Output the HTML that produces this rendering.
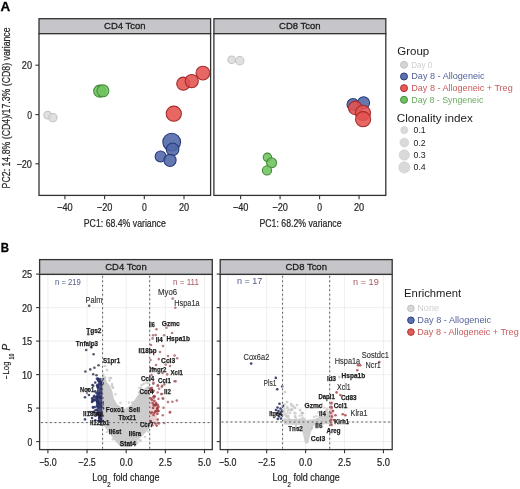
<!DOCTYPE html>
<html><head><meta charset="utf-8"><style>
html,body{margin:0;padding:0;background:#fff;}
svg{display:block;filter:blur(0.3px);font-family:"Liberation Sans", sans-serif;}
.ax{fill:#262626;stroke:#262626;stroke-width:0.22px;}
</style></head><body>
<svg width="520" height="489" viewBox="0 0 520 489">
<rect width="520" height="489" fill="#fff"/>
<text x="0.4" y="11.4" font-size="13.4" fill="#000" text-anchor="start" font-weight="bold" font-style="normal" textLength="9.7" lengthAdjust="spacingAndGlyphs" stroke="#000" stroke-width="0.3">A</text>
<rect x="39.0" y="18.7" width="171.6" height="15.0" fill="#c6c5c9" stroke="#333" stroke-width="1.3"/>
<rect x="39.0" y="33.7" width="171.6" height="161.7" fill="#fff" stroke="#333" stroke-width="1.3"/>
<text x="124.8" y="29.3" font-size="9.9" fill="#1e1e1e" text-anchor="middle" font-weight="normal" font-style="normal" textLength="41.5" lengthAdjust="spacingAndGlyphs" stroke="#1e1e1e" stroke-width="0.3">CD4 Tcon</text>
<rect x="213.9" y="18.7" width="171.9" height="15.0" fill="#c6c5c9" stroke="#333" stroke-width="1.3"/>
<rect x="213.9" y="33.7" width="171.9" height="161.7" fill="#fff" stroke="#333" stroke-width="1.3"/>
<text x="299.85" y="29.3" font-size="9.9" fill="#1e1e1e" text-anchor="middle" font-weight="normal" font-style="normal" textLength="41.5" lengthAdjust="spacingAndGlyphs" stroke="#1e1e1e" stroke-width="0.3">CD8 Tcon</text>
<line x1="35.4" y1="65.2" x2="39.0" y2="65.2" stroke="#333" stroke-width="1.1"/>
<text x="32.0" y="69.10000000000001" font-size="10.7" fill="#333" text-anchor="end" font-weight="normal" font-style="normal" textLength="10.2" lengthAdjust="spacingAndGlyphs" class="ax">20</text>
<line x1="35.4" y1="114.6" x2="39.0" y2="114.6" stroke="#333" stroke-width="1.1"/>
<text x="32.0" y="118.5" font-size="10.7" fill="#333" text-anchor="end" font-weight="normal" font-style="normal" textLength="4.8" lengthAdjust="spacingAndGlyphs" class="ax">0</text>
<line x1="35.4" y1="163.8" x2="39.0" y2="163.8" stroke="#333" stroke-width="1.1"/>
<text x="32.0" y="167.70000000000002" font-size="10.7" fill="#333" text-anchor="end" font-weight="normal" font-style="normal" textLength="15.6" lengthAdjust="spacingAndGlyphs" class="ax">−20</text>
<line x1="64.9" y1="195.4" x2="64.9" y2="199.2" stroke="#333" stroke-width="1.1"/>
<text x="64.9" y="211.2" font-size="10.7" fill="#333" text-anchor="middle" font-weight="normal" font-style="normal" textLength="15.6" lengthAdjust="spacingAndGlyphs" class="ax">−40</text>
<line x1="104.60000000000001" y1="195.4" x2="104.60000000000001" y2="199.2" stroke="#333" stroke-width="1.1"/>
<text x="104.60000000000001" y="211.2" font-size="10.7" fill="#333" text-anchor="middle" font-weight="normal" font-style="normal" textLength="15.6" lengthAdjust="spacingAndGlyphs" class="ax">−20</text>
<line x1="144.3" y1="195.4" x2="144.3" y2="199.2" stroke="#333" stroke-width="1.1"/>
<text x="144.3" y="211.2" font-size="10.7" fill="#333" text-anchor="middle" font-weight="normal" font-style="normal" textLength="4.8" lengthAdjust="spacingAndGlyphs" class="ax">0</text>
<line x1="184.0" y1="195.4" x2="184.0" y2="199.2" stroke="#333" stroke-width="1.1"/>
<text x="184.0" y="211.2" font-size="10.7" fill="#333" text-anchor="middle" font-weight="normal" font-style="normal" textLength="10.2" lengthAdjust="spacingAndGlyphs" class="ax">20</text>
<line x1="240.60000000000002" y1="195.4" x2="240.60000000000002" y2="199.2" stroke="#333" stroke-width="1.1"/>
<text x="240.60000000000002" y="211.2" font-size="10.7" fill="#333" text-anchor="middle" font-weight="normal" font-style="normal" textLength="15.6" lengthAdjust="spacingAndGlyphs" class="ax">−40</text>
<line x1="280.1" y1="195.4" x2="280.1" y2="199.2" stroke="#333" stroke-width="1.1"/>
<text x="280.1" y="211.2" font-size="10.7" fill="#333" text-anchor="middle" font-weight="normal" font-style="normal" textLength="15.6" lengthAdjust="spacingAndGlyphs" class="ax">−20</text>
<line x1="319.6" y1="195.4" x2="319.6" y2="199.2" stroke="#333" stroke-width="1.1"/>
<text x="319.6" y="211.2" font-size="10.7" fill="#333" text-anchor="middle" font-weight="normal" font-style="normal" textLength="4.8" lengthAdjust="spacingAndGlyphs" class="ax">0</text>
<line x1="359.1" y1="195.4" x2="359.1" y2="199.2" stroke="#333" stroke-width="1.1"/>
<text x="359.1" y="211.2" font-size="10.7" fill="#333" text-anchor="middle" font-weight="normal" font-style="normal" textLength="10.2" lengthAdjust="spacingAndGlyphs" class="ax">20</text>
<text x="124.8" y="227.1" font-size="11.2" fill="#333" text-anchor="middle" font-weight="normal" font-style="normal" textLength="82" lengthAdjust="spacingAndGlyphs" class="ax">PC1: 68.4% variance</text>
<text x="300.5" y="227.1" font-size="11.2" fill="#333" text-anchor="middle" font-weight="normal" font-style="normal" textLength="82" lengthAdjust="spacingAndGlyphs" class="ax">PC1: 68.2% variance</text>
<text x="10.3" y="107.9" font-size="11.0" fill="#333" text-anchor="middle" font-weight="normal" font-style="normal" textLength="161" lengthAdjust="spacingAndGlyphs" class="ax" transform="rotate(-90 10.3 107.9)">PC2: 14.8% (CD4)/17.3% (CD8) variance</text>
<circle cx="47.70" cy="115.10" r="3.9" fill="#dcdcdc" stroke="#c4c4c4" stroke-width="1.05" fill-opacity="0.88"/>
<circle cx="52.90" cy="117.60" r="4.2" fill="#dcdcdc" stroke="#c4c4c4" stroke-width="1.05" fill-opacity="0.88"/>
<circle cx="99.70" cy="91.10" r="6.0" fill="#6ec35f" stroke="#3f8a34" stroke-width="1.05" fill-opacity="0.88"/>
<circle cx="102.90" cy="90.80" r="6.0" fill="#6ec35f" stroke="#3f8a34" stroke-width="1.05" fill-opacity="0.88"/>
<circle cx="202.90" cy="73.10" r="6.9" fill="#e45250" stroke="#a52b2b" stroke-width="1.05" fill-opacity="0.88"/>
<circle cx="183.30" cy="83.70" r="6.6" fill="#e45250" stroke="#a52b2b" stroke-width="1.05" fill-opacity="0.88"/>
<circle cx="191.70" cy="81.10" r="6.6" fill="#e45250" stroke="#a52b2b" stroke-width="1.05" fill-opacity="0.88"/>
<circle cx="173.80" cy="113.70" r="7.6" fill="#e45250" stroke="#a52b2b" stroke-width="1.05" fill-opacity="0.88"/>
<circle cx="171.70" cy="142.10" r="8.9" fill="#4f67a6" stroke="#26397a" stroke-width="1.05" fill-opacity="0.88"/>
<circle cx="172.60" cy="149.40" r="6.3" fill="#4f67a6" stroke="#26397a" stroke-width="1.05" fill-opacity="0.88"/>
<circle cx="160.60" cy="156.40" r="5.5" fill="#4f67a6" stroke="#26397a" stroke-width="1.05" fill-opacity="0.88"/>
<circle cx="170.00" cy="160.30" r="6.1" fill="#4f67a6" stroke="#26397a" stroke-width="1.05" fill-opacity="0.88"/>
<circle cx="231.60" cy="59.75" r="3.8" fill="#dcdcdc" stroke="#c4c4c4" stroke-width="1.05" fill-opacity="0.88"/>
<circle cx="239.75" cy="60.75" r="4.2" fill="#dcdcdc" stroke="#c4c4c4" stroke-width="1.05" fill-opacity="0.88"/>
<circle cx="267.40" cy="157.30" r="4.2" fill="#6ec35f" stroke="#3f8a34" stroke-width="1.05" fill-opacity="0.88"/>
<circle cx="271.60" cy="162.80" r="5.0" fill="#6ec35f" stroke="#3f8a34" stroke-width="1.05" fill-opacity="0.88"/>
<circle cx="267.00" cy="170.40" r="4.6" fill="#6ec35f" stroke="#3f8a34" stroke-width="1.05" fill-opacity="0.88"/>
<circle cx="353.00" cy="104.50" r="6.0" fill="#4f67a6" stroke="#26397a" stroke-width="1.05" fill-opacity="0.88"/>
<circle cx="363.60" cy="102.80" r="6.0" fill="#4f67a6" stroke="#26397a" stroke-width="1.05" fill-opacity="0.88"/>
<circle cx="355.30" cy="107.90" r="6.8" fill="#e45250" stroke="#a52b2b" stroke-width="1.05" fill-opacity="0.88"/>
<circle cx="362.90" cy="112.90" r="7.6" fill="#e45250" stroke="#a52b2b" stroke-width="1.05" fill-opacity="0.88"/>
<circle cx="363.10" cy="119.20" r="7.6" fill="#e45250" stroke="#a52b2b" stroke-width="1.05" fill-opacity="0.88"/>
<text x="397.2" y="55.1" font-size="11" fill="#1a1a1a" text-anchor="start" font-weight="normal" font-style="normal" textLength="32" lengthAdjust="spacingAndGlyphs" >Group</text>
<circle cx="404.00" cy="64.80" r="3.5" fill="#d6d6d6" stroke="#c2c2c2" stroke-width="1.0" fill-opacity="1"/>
<text x="411.3" y="67.8" font-size="8.6" fill="#cfcfcf" text-anchor="start" font-weight="normal" font-style="normal" textLength="21" lengthAdjust="spacingAndGlyphs" >Day 0</text>
<circle cx="404.00" cy="76.47" r="3.5" fill="#5a72b0" stroke="#2a3d78" stroke-width="1.0" fill-opacity="1"/>
<text x="411.3" y="79.47" font-size="8.6" fill="#55639a" text-anchor="start" font-weight="normal" font-style="normal" textLength="73.3" lengthAdjust="spacingAndGlyphs" >Day 8 - Allogeneic</text>
<circle cx="404.00" cy="88.14" r="3.5" fill="#e65a58" stroke="#a83030" stroke-width="1.0" fill-opacity="1"/>
<text x="411.3" y="91.14" font-size="8.6" fill="#c85a5a" text-anchor="start" font-weight="normal" font-style="normal" textLength="101.4" lengthAdjust="spacingAndGlyphs" >Day 8 - Allogeneic + Treg</text>
<circle cx="404.00" cy="99.81" r="3.5" fill="#72c063" stroke="#3f8a34" stroke-width="1.0" fill-opacity="1"/>
<text x="411.3" y="102.81" font-size="8.6" fill="#6aaa5e" text-anchor="start" font-weight="normal" font-style="normal" textLength="72.1" lengthAdjust="spacingAndGlyphs" >Day 8 - Syngeneic</text>
<text x="396.8" y="121.8" font-size="11" fill="#1a1a1a" text-anchor="start" font-weight="normal" font-style="normal" textLength="76" lengthAdjust="spacingAndGlyphs" >Clonality index</text>
<circle cx="404.30" cy="130.10" r="3.6" fill="#d9d9d9" stroke="#cccccc" stroke-width="0.6" fill-opacity="1"/>
<text x="413.5" y="133.1" font-size="8.6" fill="#222" text-anchor="start" font-weight="normal" font-style="normal" textLength="12.2" lengthAdjust="spacingAndGlyphs" >0.1</text>
<circle cx="404.30" cy="142.53" r="4.4" fill="#d9d9d9" stroke="#cccccc" stroke-width="0.6" fill-opacity="1"/>
<text x="413.5" y="145.53" font-size="8.6" fill="#222" text-anchor="start" font-weight="normal" font-style="normal" textLength="12.2" lengthAdjust="spacingAndGlyphs" >0.2</text>
<circle cx="404.30" cy="154.96" r="5.2" fill="#d9d9d9" stroke="#cccccc" stroke-width="0.6" fill-opacity="1"/>
<text x="413.5" y="157.95999999999998" font-size="8.6" fill="#222" text-anchor="start" font-weight="normal" font-style="normal" textLength="12.2" lengthAdjust="spacingAndGlyphs" >0.3</text>
<circle cx="404.30" cy="167.39" r="5.6" fill="#d9d9d9" stroke="#cccccc" stroke-width="0.6" fill-opacity="1"/>
<text x="413.5" y="170.39" font-size="8.6" fill="#222" text-anchor="start" font-weight="normal" font-style="normal" textLength="12.2" lengthAdjust="spacingAndGlyphs" >0.4</text>
<text x="0.8" y="251.7" font-size="13.6" fill="#000" text-anchor="start" font-weight="bold" font-style="normal" textLength="8.3" lengthAdjust="spacingAndGlyphs" stroke="#000" stroke-width="0.3">B</text>
<rect x="39.6" y="259.6" width="172.70000000000002" height="14.8" fill="#c6c5c9" stroke="#333" stroke-width="1.3"/>
<rect x="39.6" y="274.4" width="172.70000000000002" height="175.2" fill="#fff" stroke="none" stroke-width="1"/>
<line x1="47.900000000000006" y1="274.4" x2="47.900000000000006" y2="449.6" stroke="#ebebeb" stroke-width="0.8"/>
<line x1="87.05000000000001" y1="274.4" x2="87.05000000000001" y2="449.6" stroke="#ebebeb" stroke-width="0.8"/>
<line x1="126.2" y1="274.4" x2="126.2" y2="449.6" stroke="#ebebeb" stroke-width="0.8"/>
<line x1="165.35" y1="274.4" x2="165.35" y2="449.6" stroke="#ebebeb" stroke-width="0.8"/>
<line x1="204.5" y1="274.4" x2="204.5" y2="449.6" stroke="#ebebeb" stroke-width="0.8"/>
<line x1="39.6" y1="441.6" x2="212.3" y2="441.6" stroke="#ebebeb" stroke-width="0.8"/>
<line x1="39.6" y1="408.1" x2="212.3" y2="408.1" stroke="#ebebeb" stroke-width="0.8"/>
<line x1="39.6" y1="374.6" x2="212.3" y2="374.6" stroke="#ebebeb" stroke-width="0.8"/>
<line x1="39.6" y1="341.1" x2="212.3" y2="341.1" stroke="#ebebeb" stroke-width="0.8"/>
<line x1="39.6" y1="307.6" x2="212.3" y2="307.6" stroke="#ebebeb" stroke-width="0.8"/>
<line x1="39.6" y1="274.1" x2="212.3" y2="274.1" stroke="#ebebeb" stroke-width="0.8"/>
<text x="125.95" y="270.2" font-size="9.9" fill="#1e1e1e" text-anchor="middle" font-weight="normal" font-style="normal" textLength="41.5" lengthAdjust="spacingAndGlyphs" stroke="#1e1e1e" stroke-width="0.3">CD4 Tcon</text>
<rect x="220.2" y="259.6" width="172.0" height="14.8" fill="#c6c5c9" stroke="#333" stroke-width="1.3"/>
<rect x="220.2" y="274.4" width="172.0" height="175.2" fill="#fff" stroke="none" stroke-width="1"/>
<line x1="227.75000000000003" y1="274.4" x2="227.75000000000003" y2="449.6" stroke="#ebebeb" stroke-width="0.8"/>
<line x1="266.675" y1="274.4" x2="266.675" y2="449.6" stroke="#ebebeb" stroke-width="0.8"/>
<line x1="305.6" y1="274.4" x2="305.6" y2="449.6" stroke="#ebebeb" stroke-width="0.8"/>
<line x1="344.52500000000003" y1="274.4" x2="344.52500000000003" y2="449.6" stroke="#ebebeb" stroke-width="0.8"/>
<line x1="383.45000000000005" y1="274.4" x2="383.45000000000005" y2="449.6" stroke="#ebebeb" stroke-width="0.8"/>
<line x1="220.2" y1="441.6" x2="392.2" y2="441.6" stroke="#ebebeb" stroke-width="0.8"/>
<line x1="220.2" y1="408.1" x2="392.2" y2="408.1" stroke="#ebebeb" stroke-width="0.8"/>
<line x1="220.2" y1="374.6" x2="392.2" y2="374.6" stroke="#ebebeb" stroke-width="0.8"/>
<line x1="220.2" y1="341.1" x2="392.2" y2="341.1" stroke="#ebebeb" stroke-width="0.8"/>
<line x1="220.2" y1="307.6" x2="392.2" y2="307.6" stroke="#ebebeb" stroke-width="0.8"/>
<line x1="220.2" y1="274.1" x2="392.2" y2="274.1" stroke="#ebebeb" stroke-width="0.8"/>
<text x="306.2" y="270.2" font-size="9.9" fill="#1e1e1e" text-anchor="middle" font-weight="normal" font-style="normal" textLength="41.5" lengthAdjust="spacingAndGlyphs" stroke="#1e1e1e" stroke-width="0.3">CD8 Tcon</text>
<polygon points="102.9,376 105,377 107,382 110,386 112.5,392 114,399 117,404 121,407 125,409 131,405 135.3,399 138,395 141,392 145,388 149.6,385 149.6,428 146,432 141,437 135,443 131,447.3 121,447.3 116,442 110,434 104,426 102.9,424" fill="#c8c8c8" fill-opacity="0.92"/>
<circle cx="107.1" cy="432.0" r="1.3" fill="#bdbdbd" fill-opacity="0.6"/>
<circle cx="111.8" cy="385.7" r="1.3" fill="#bdbdbd" fill-opacity="0.6"/>
<circle cx="139.3" cy="388.0" r="1.3" fill="#bdbdbd" fill-opacity="0.6"/>
<circle cx="129.0" cy="402.5" r="1.3" fill="#bdbdbd" fill-opacity="0.6"/>
<circle cx="112.8" cy="388.0" r="1.3" fill="#bdbdbd" fill-opacity="0.6"/>
<circle cx="148.2" cy="431.5" r="1.3" fill="#bdbdbd" fill-opacity="0.6"/>
<circle cx="112.9" cy="387.0" r="1.3" fill="#bdbdbd" fill-opacity="0.6"/>
<circle cx="139.0" cy="392.8" r="1.3" fill="#bdbdbd" fill-opacity="0.6"/>
<circle cx="120.3" cy="402.9" r="1.3" fill="#bdbdbd" fill-opacity="0.6"/>
<circle cx="137.4" cy="442.6" r="1.3" fill="#bdbdbd" fill-opacity="0.6"/>
<circle cx="145.7" cy="382.6" r="1.3" fill="#bdbdbd" fill-opacity="0.6"/>
<circle cx="135.6" cy="444.5" r="1.3" fill="#bdbdbd" fill-opacity="0.6"/>
<circle cx="139.9" cy="440.6" r="1.3" fill="#bdbdbd" fill-opacity="0.6"/>
<circle cx="145.0" cy="437.0" r="1.3" fill="#bdbdbd" fill-opacity="0.6"/>
<circle cx="140.5" cy="440.5" r="1.3" fill="#bdbdbd" fill-opacity="0.6"/>
<circle cx="136.1" cy="443.4" r="1.3" fill="#bdbdbd" fill-opacity="0.6"/>
<circle cx="141.6" cy="385.3" r="1.3" fill="#bdbdbd" fill-opacity="0.6"/>
<circle cx="132.3" cy="402.4" r="1.3" fill="#bdbdbd" fill-opacity="0.6"/>
<circle cx="115.6" cy="394.2" r="1.3" fill="#bdbdbd" fill-opacity="0.6"/>
<circle cx="112.9" cy="439.3" r="1.3" fill="#bdbdbd" fill-opacity="0.6"/>
<circle cx="109.5" cy="378.1" r="1.3" fill="#bdbdbd" fill-opacity="0.6"/>
<circle cx="103.4" cy="374.8" r="1.3" fill="#bdbdbd" fill-opacity="0.7"/>
<circle cx="105.1" cy="377.6" r="1.3" fill="#bdbdbd" fill-opacity="0.7"/>
<circle cx="109.6" cy="380.5" r="1.3" fill="#bdbdbd" fill-opacity="0.7"/>
<circle cx="103.9" cy="383.8" r="1.3" fill="#bdbdbd" fill-opacity="0.7"/>
<circle cx="107.0" cy="370.0" r="1.3" fill="#bdbdbd" fill-opacity="0.7"/>
<circle cx="146.0" cy="378.0" r="1.3" fill="#bdbdbd" fill-opacity="0.7"/>
<circle cx="148.0" cy="383.0" r="1.3" fill="#bdbdbd" fill-opacity="0.7"/>
<circle cx="143.6" cy="384.0" r="1.3" fill="#bdbdbd" fill-opacity="0.7"/>
<circle cx="112.0" cy="384.0" r="1.3" fill="#bdbdbd" fill-opacity="0.7"/>
<circle cx="141.0" cy="388.0" r="1.3" fill="#bdbdbd" fill-opacity="0.7"/>
<circle cx="105.0" cy="366.0" r="1.3" fill="#bdbdbd" fill-opacity="0.7"/>
<circle cx="111.0" cy="378.0" r="1.3" fill="#bdbdbd" fill-opacity="0.7"/>
<polygon points="98.5,381 102.9,381 102.9,423 99,423 97,412 95.5,400 97,390" fill="#2a2f66" fill-opacity="0.85"/>
<circle cx="98.5" cy="402.6" r="1.3" fill="#2a3068" fill-opacity="0.85"/>
<circle cx="101.0" cy="404.3" r="1.3" fill="#2a3068" fill-opacity="0.85"/>
<circle cx="94.4" cy="395.9" r="1.3" fill="#2a3068" fill-opacity="0.85"/>
<circle cx="101.1" cy="420.3" r="1.3" fill="#2a3068" fill-opacity="0.85"/>
<circle cx="102.6" cy="402.6" r="1.3" fill="#2a3068" fill-opacity="0.85"/>
<circle cx="97.7" cy="387.4" r="1.3" fill="#2a3068" fill-opacity="0.85"/>
<circle cx="97.2" cy="401.6" r="1.3" fill="#2a3068" fill-opacity="0.85"/>
<circle cx="98.1" cy="379.3" r="1.3" fill="#2a3068" fill-opacity="0.85"/>
<circle cx="102.6" cy="402.3" r="1.3" fill="#2a3068" fill-opacity="0.85"/>
<circle cx="95.5" cy="415.7" r="1.3" fill="#2a3068" fill-opacity="0.85"/>
<circle cx="97.5" cy="401.1" r="1.3" fill="#2a3068" fill-opacity="0.85"/>
<circle cx="99.1" cy="381.1" r="1.3" fill="#2a3068" fill-opacity="0.85"/>
<circle cx="97.2" cy="397.4" r="1.3" fill="#2a3068" fill-opacity="0.85"/>
<circle cx="102.5" cy="421.4" r="1.3" fill="#2a3068" fill-opacity="0.85"/>
<circle cx="93.9" cy="400.2" r="1.3" fill="#2a3068" fill-opacity="0.85"/>
<circle cx="92.1" cy="398.4" r="1.3" fill="#2a3068" fill-opacity="0.85"/>
<circle cx="100.7" cy="420.3" r="1.3" fill="#2a3068" fill-opacity="0.85"/>
<circle cx="96.5" cy="392.9" r="1.3" fill="#2a3068" fill-opacity="0.85"/>
<circle cx="92.9" cy="407.0" r="1.3" fill="#2a3068" fill-opacity="0.85"/>
<circle cx="102.1" cy="384.1" r="1.3" fill="#2a3068" fill-opacity="0.85"/>
<circle cx="100.2" cy="379.1" r="1.3" fill="#2a3068" fill-opacity="0.85"/>
<circle cx="99.1" cy="393.1" r="1.3" fill="#2a3068" fill-opacity="0.85"/>
<circle cx="94.9" cy="407.1" r="1.3" fill="#2a3068" fill-opacity="0.85"/>
<circle cx="92.0" cy="402.0" r="1.3" fill="#2a3068" fill-opacity="0.85"/>
<circle cx="97.1" cy="398.5" r="1.3" fill="#2a3068" fill-opacity="0.85"/>
<circle cx="95.2" cy="397.4" r="1.3" fill="#2a3068" fill-opacity="0.85"/>
<circle cx="97.1" cy="385.5" r="1.3" fill="#2a3068" fill-opacity="0.85"/>
<circle cx="93.1" cy="407.7" r="1.3" fill="#2a3068" fill-opacity="0.85"/>
<circle cx="98.5" cy="402.9" r="1.3" fill="#2a3068" fill-opacity="0.85"/>
<circle cx="101.1" cy="406.8" r="1.3" fill="#2a3068" fill-opacity="0.85"/>
<circle cx="101.2" cy="388.9" r="1.3" fill="#2a3068" fill-opacity="0.85"/>
<circle cx="99.8" cy="416.1" r="1.3" fill="#2a3068" fill-opacity="0.85"/>
<circle cx="101.8" cy="392.8" r="1.3" fill="#2a3068" fill-opacity="0.85"/>
<circle cx="101.6" cy="384.3" r="1.3" fill="#2a3068" fill-opacity="0.85"/>
<circle cx="93.5" cy="412.1" r="1.3" fill="#2a3068" fill-opacity="0.85"/>
<circle cx="100.9" cy="397.8" r="1.3" fill="#2a3068" fill-opacity="0.85"/>
<circle cx="100.4" cy="383.9" r="1.3" fill="#2a3068" fill-opacity="0.85"/>
<circle cx="95.5" cy="410.2" r="1.3" fill="#2a3068" fill-opacity="0.85"/>
<circle cx="99.0" cy="420.8" r="1.3" fill="#2a3068" fill-opacity="0.85"/>
<circle cx="102.6" cy="383.4" r="1.3" fill="#2a3068" fill-opacity="0.85"/>
<circle cx="96.8" cy="413.6" r="1.3" fill="#2a3068" fill-opacity="0.85"/>
<circle cx="96.8" cy="410.2" r="1.3" fill="#2a3068" fill-opacity="0.85"/>
<circle cx="97.4" cy="402.2" r="1.3" fill="#2a3068" fill-opacity="0.85"/>
<circle cx="97.6" cy="384.9" r="1.3" fill="#2a3068" fill-opacity="0.85"/>
<circle cx="101.0" cy="424.5" r="1.3" fill="#2a3068" fill-opacity="0.85"/>
<circle cx="102.1" cy="382.5" r="1.3" fill="#2a3068" fill-opacity="0.85"/>
<circle cx="96.3" cy="413.9" r="1.3" fill="#2a3068" fill-opacity="0.85"/>
<circle cx="94.6" cy="399.9" r="1.3" fill="#2a3068" fill-opacity="0.85"/>
<circle cx="96.9" cy="398.2" r="1.3" fill="#2a3068" fill-opacity="0.85"/>
<circle cx="98.0" cy="378.6" r="1.3" fill="#2a3068" fill-opacity="0.85"/>
<circle cx="99.3" cy="417.7" r="1.3" fill="#2a3068" fill-opacity="0.85"/>
<circle cx="92.8" cy="399.3" r="1.3" fill="#2a3068" fill-opacity="0.85"/>
<circle cx="99.7" cy="397.0" r="1.3" fill="#2a3068" fill-opacity="0.85"/>
<circle cx="96.9" cy="378.7" r="1.3" fill="#2a3068" fill-opacity="0.85"/>
<circle cx="101.7" cy="415.7" r="1.3" fill="#2a3068" fill-opacity="0.85"/>
<circle cx="99.3" cy="418.5" r="1.3" fill="#2a3068" fill-opacity="0.85"/>
<circle cx="98.4" cy="397.0" r="1.3" fill="#2a3068" fill-opacity="0.85"/>
<circle cx="98.0" cy="401.7" r="1.3" fill="#2a3068" fill-opacity="0.85"/>
<circle cx="102.8" cy="415.8" r="1.3" fill="#2a3068" fill-opacity="0.85"/>
<circle cx="99.8" cy="414.6" r="1.3" fill="#2a3068" fill-opacity="0.85"/>
<circle cx="100.7" cy="397.1" r="1.3" fill="#2a3068" fill-opacity="0.85"/>
<circle cx="101.7" cy="419.4" r="1.3" fill="#2a3068" fill-opacity="0.85"/>
<circle cx="99.2" cy="414.1" r="1.3" fill="#2a3068" fill-opacity="0.85"/>
<circle cx="100.1" cy="397.1" r="1.3" fill="#2a3068" fill-opacity="0.85"/>
<circle cx="99.5" cy="381.3" r="1.3" fill="#2a3068" fill-opacity="0.85"/>
<circle cx="94.8" cy="400.0" r="1.3" fill="#2a3068" fill-opacity="0.85"/>
<circle cx="98.5" cy="407.3" r="1.3" fill="#2a3068" fill-opacity="0.85"/>
<circle cx="98.8" cy="393.9" r="1.3" fill="#2a3068" fill-opacity="0.85"/>
<circle cx="98.7" cy="404.8" r="1.3" fill="#2a3068" fill-opacity="0.85"/>
<circle cx="97.2" cy="396.3" r="1.3" fill="#2a3068" fill-opacity="0.85"/>
<circle cx="103.0" cy="408.2" r="1.3" fill="#2a3068" fill-opacity="0.85"/>
<circle cx="99.3" cy="413.8" r="1.3" fill="#2a3068" fill-opacity="0.85"/>
<circle cx="102.8" cy="379.1" r="1.3" fill="#2a3068" fill-opacity="0.85"/>
<circle cx="98.2" cy="412.7" r="1.3" fill="#2a3068" fill-opacity="0.85"/>
<circle cx="93.7" cy="396.9" r="1.3" fill="#2a3068" fill-opacity="0.85"/>
<circle cx="95.2" cy="382.6" r="1.3" fill="#2a3068" fill-opacity="0.85"/>
<circle cx="97.4" cy="401.9" r="1.3" fill="#2a3068" fill-opacity="0.85"/>
<circle cx="102.6" cy="404.7" r="1.3" fill="#2a3068" fill-opacity="0.85"/>
<circle cx="102.9" cy="408.0" r="1.3" fill="#2a3068" fill-opacity="0.85"/>
<circle cx="100.6" cy="381.6" r="1.3" fill="#2a3068" fill-opacity="0.85"/>
<circle cx="98.0" cy="413.7" r="1.3" fill="#2a3068" fill-opacity="0.85"/>
<circle cx="92.5" cy="400.2" r="1.3" fill="#2a3068" fill-opacity="0.85"/>
<circle cx="92.6" cy="401.3" r="1.3" fill="#2a3068" fill-opacity="0.85"/>
<circle cx="98.1" cy="380.8" r="1.3" fill="#2a3068" fill-opacity="0.85"/>
<circle cx="102.3" cy="397.8" r="1.3" fill="#2a3068" fill-opacity="0.85"/>
<circle cx="97.1" cy="406.1" r="1.3" fill="#2a3068" fill-opacity="0.85"/>
<circle cx="95.1" cy="391.4" r="1.3" fill="#2a3068" fill-opacity="0.85"/>
<circle cx="98.7" cy="404.4" r="1.3" fill="#2a3068" fill-opacity="0.85"/>
<circle cx="94.0" cy="411.7" r="1.3" fill="#2a3068" fill-opacity="0.85"/>
<circle cx="95.4" cy="420.2" r="1.3" fill="#2a3068" fill-opacity="0.85"/>
<circle cx="89.2" cy="305.8" r="1.3" fill="#44475f" fill-opacity="0.9"/>
<circle cx="88.3" cy="334.3" r="1.3" fill="#44475f" fill-opacity="0.9"/>
<circle cx="86.2" cy="350.0" r="1.3" fill="#44475f" fill-opacity="0.9"/>
<circle cx="91.2" cy="347.2" r="1.3" fill="#44475f" fill-opacity="0.9"/>
<circle cx="93.6" cy="354.3" r="1.3" fill="#44475f" fill-opacity="0.9"/>
<circle cx="98.5" cy="365.3" r="1.3" fill="#44475f" fill-opacity="0.9"/>
<circle cx="94.4" cy="367.8" r="1.3" fill="#44475f" fill-opacity="0.9"/>
<circle cx="90.3" cy="369.4" r="1.3" fill="#44475f" fill-opacity="0.9"/>
<circle cx="85.4" cy="371.5" r="1.3" fill="#44475f" fill-opacity="0.9"/>
<circle cx="93.2" cy="374.3" r="1.3" fill="#44475f" fill-opacity="0.9"/>
<circle cx="96.5" cy="375.2" r="1.3" fill="#44475f" fill-opacity="0.9"/>
<circle cx="98.1" cy="379.3" r="1.3" fill="#2a3068" fill-opacity="0.85"/>
<circle cx="100.6" cy="381.3" r="1.3" fill="#2a3068" fill-opacity="0.85"/>
<circle cx="92.4" cy="385.0" r="1.3" fill="#2a3068" fill-opacity="0.85"/>
<circle cx="97.7" cy="386.2" r="1.3" fill="#2a3068" fill-opacity="0.85"/>
<circle cx="88.3" cy="389.5" r="1.3" fill="#2a3068" fill-opacity="0.85"/>
<circle cx="85.0" cy="397.3" r="1.3" fill="#2a3068" fill-opacity="0.85"/>
<circle cx="85.0" cy="419.4" r="1.3" fill="#2a3068" fill-opacity="0.85"/>
<circle cx="93.2" cy="385.7" r="1.3" fill="#2a3068" fill-opacity="0.85"/>
<circle cx="90.0" cy="412.0" r="1.3" fill="#2a3068" fill-opacity="0.85"/>
<circle cx="92.0" cy="418.0" r="1.3" fill="#2a3068" fill-opacity="0.85"/>
<circle cx="89.0" cy="395.0" r="1.3" fill="#2a3068" fill-opacity="0.85"/>
<polygon points="149.6,397 152.5,397 156,405 157.5,413 156,424 149.6,424" fill="#c98a8d" fill-opacity="0.4"/>
<circle cx="150.4" cy="422.2" r="1.3" fill="#9e3439" fill-opacity="0.8"/>
<circle cx="154.3" cy="405.1" r="1.3" fill="#9e3439" fill-opacity="0.8"/>
<circle cx="155.3" cy="423.5" r="1.3" fill="#9e3439" fill-opacity="0.8"/>
<circle cx="157.5" cy="404.7" r="1.3" fill="#9e3439" fill-opacity="0.8"/>
<circle cx="156.4" cy="404.2" r="1.3" fill="#9e3439" fill-opacity="0.8"/>
<circle cx="151.8" cy="388.1" r="1.3" fill="#9e3439" fill-opacity="0.8"/>
<circle cx="154.4" cy="412.7" r="1.3" fill="#9e3439" fill-opacity="0.8"/>
<circle cx="154.6" cy="396.5" r="1.3" fill="#9e3439" fill-opacity="0.8"/>
<circle cx="155.9" cy="402.8" r="1.3" fill="#9e3439" fill-opacity="0.8"/>
<circle cx="158.1" cy="407.2" r="1.3" fill="#9e3439" fill-opacity="0.8"/>
<circle cx="150.8" cy="421.7" r="1.3" fill="#9e3439" fill-opacity="0.8"/>
<circle cx="158.1" cy="411.0" r="1.3" fill="#9e3439" fill-opacity="0.8"/>
<circle cx="153.5" cy="396.9" r="1.3" fill="#9e3439" fill-opacity="0.8"/>
<circle cx="157.1" cy="408.6" r="1.3" fill="#9e3439" fill-opacity="0.8"/>
<circle cx="156.0" cy="411.3" r="1.3" fill="#9e3439" fill-opacity="0.8"/>
<circle cx="152.3" cy="425.2" r="1.3" fill="#9e3439" fill-opacity="0.8"/>
<circle cx="150.0" cy="388.4" r="1.3" fill="#9e3439" fill-opacity="0.8"/>
<circle cx="152.6" cy="403.0" r="1.3" fill="#9e3439" fill-opacity="0.8"/>
<circle cx="150.5" cy="413.1" r="1.3" fill="#9e3439" fill-opacity="0.8"/>
<circle cx="155.6" cy="411.2" r="1.3" fill="#9e3439" fill-opacity="0.8"/>
<circle cx="153.7" cy="405.1" r="1.3" fill="#9e3439" fill-opacity="0.8"/>
<circle cx="151.9" cy="399.7" r="1.3" fill="#9e3439" fill-opacity="0.8"/>
<circle cx="157.7" cy="419.5" r="1.3" fill="#9e3439" fill-opacity="0.8"/>
<circle cx="150.4" cy="390.8" r="1.3" fill="#9e3439" fill-opacity="0.8"/>
<circle cx="158.4" cy="410.9" r="1.3" fill="#9e3439" fill-opacity="0.8"/>
<circle cx="154.2" cy="396.3" r="1.3" fill="#9e3439" fill-opacity="0.8"/>
<circle cx="156.7" cy="425.6" r="1.3" fill="#9e3439" fill-opacity="0.8"/>
<circle cx="153.1" cy="407.9" r="1.3" fill="#9e3439" fill-opacity="0.8"/>
<circle cx="157.7" cy="422.8" r="1.3" fill="#9e3439" fill-opacity="0.8"/>
<circle cx="154.3" cy="400.8" r="1.3" fill="#9e3439" fill-opacity="0.8"/>
<circle cx="150.7" cy="421.0" r="1.3" fill="#9e3439" fill-opacity="0.8"/>
<circle cx="150.5" cy="389.3" r="1.3" fill="#9e3439" fill-opacity="0.8"/>
<circle cx="155.7" cy="405.4" r="1.3" fill="#9e3439" fill-opacity="0.8"/>
<circle cx="151.9" cy="412.5" r="1.3" fill="#9e3439" fill-opacity="0.8"/>
<circle cx="150.5" cy="398.2" r="1.3" fill="#9e3439" fill-opacity="0.8"/>
<circle cx="157.5" cy="413.8" r="1.3" fill="#9e3439" fill-opacity="0.8"/>
<circle cx="152.7" cy="391.7" r="1.3" fill="#9e3439" fill-opacity="0.8"/>
<circle cx="153.5" cy="415.0" r="1.3" fill="#9e3439" fill-opacity="0.8"/>
<circle cx="153.6" cy="390.7" r="1.3" fill="#9e3439" fill-opacity="0.8"/>
<circle cx="157.3" cy="408.8" r="1.3" fill="#9e3439" fill-opacity="0.8"/>
<circle cx="172.7" cy="298.6" r="1.3" fill="#a3545a" fill-opacity="0.75"/>
<circle cx="175.3" cy="307.8" r="1.3" fill="#a3545a" fill-opacity="0.75"/>
<circle cx="156.5" cy="329.2" r="1.3" fill="#a3545a" fill-opacity="0.75"/>
<circle cx="166.4" cy="327.7" r="1.3" fill="#a3545a" fill-opacity="0.75"/>
<circle cx="172.1" cy="333.0" r="1.3" fill="#a3545a" fill-opacity="0.75"/>
<circle cx="153.1" cy="335.3" r="1.3" fill="#a3545a" fill-opacity="0.75"/>
<circle cx="155.7" cy="335.0" r="1.3" fill="#a3545a" fill-opacity="0.75"/>
<circle cx="164.1" cy="335.3" r="1.3" fill="#a3545a" fill-opacity="0.75"/>
<circle cx="152.6" cy="338.4" r="1.3" fill="#a3545a" fill-opacity="0.75"/>
<circle cx="158.8" cy="359.1" r="1.3" fill="#a3545a" fill-opacity="0.75"/>
<circle cx="174.6" cy="355.6" r="1.3" fill="#a3545a" fill-opacity="0.75"/>
<circle cx="177.2" cy="358.3" r="1.3" fill="#a3545a" fill-opacity="0.75"/>
<circle cx="165.7" cy="364.5" r="1.3" fill="#a3545a" fill-opacity="0.75"/>
<circle cx="162.6" cy="372.9" r="1.3" fill="#a3545a" fill-opacity="0.75"/>
<circle cx="167.2" cy="374.4" r="1.3" fill="#a3545a" fill-opacity="0.75"/>
<circle cx="175.6" cy="381.3" r="1.3" fill="#a3545a" fill-opacity="0.75"/>
<circle cx="154.2" cy="369.1" r="1.3" fill="#a3545a" fill-opacity="0.75"/>
<circle cx="153.4" cy="382.9" r="1.3" fill="#a3545a" fill-opacity="0.75"/>
<circle cx="158.0" cy="385.2" r="1.3" fill="#a3545a" fill-opacity="0.75"/>
<circle cx="161.8" cy="386.7" r="1.3" fill="#a3545a" fill-opacity="0.75"/>
<circle cx="153.3" cy="383.7" r="1.3" fill="#a3545a" fill-opacity="0.75"/>
<circle cx="157.7" cy="385.9" r="1.3" fill="#a3545a" fill-opacity="0.75"/>
<circle cx="162.1" cy="385.9" r="1.3" fill="#a3545a" fill-opacity="0.75"/>
<circle cx="164.3" cy="384.4" r="1.3" fill="#a3545a" fill-opacity="0.75"/>
<circle cx="159.1" cy="388.8" r="1.3" fill="#a3545a" fill-opacity="0.75"/>
<circle cx="157.7" cy="392.5" r="1.3" fill="#a3545a" fill-opacity="0.75"/>
<circle cx="162.1" cy="394.0" r="1.3" fill="#a3545a" fill-opacity="0.75"/>
<circle cx="174.6" cy="381.2" r="1.3" fill="#a3545a" fill-opacity="0.75"/>
<circle cx="154.0" cy="397.7" r="1.3" fill="#a3545a" fill-opacity="0.75"/>
<circle cx="158.4" cy="398.9" r="1.3" fill="#a3545a" fill-opacity="0.75"/>
<circle cx="162.8" cy="398.4" r="1.3" fill="#a3545a" fill-opacity="0.75"/>
<circle cx="168.0" cy="402.1" r="1.3" fill="#a3545a" fill-opacity="0.75"/>
<circle cx="172.4" cy="401.8" r="1.3" fill="#a3545a" fill-opacity="0.75"/>
<circle cx="176.8" cy="400.6" r="1.3" fill="#a3545a" fill-opacity="0.75"/>
<circle cx="158.4" cy="406.2" r="1.3" fill="#a3545a" fill-opacity="0.75"/>
<circle cx="163.6" cy="407.7" r="1.3" fill="#a3545a" fill-opacity="0.75"/>
<circle cx="170.2" cy="412.1" r="1.3" fill="#a3545a" fill-opacity="0.75"/>
<circle cx="162.8" cy="415.3" r="1.3" fill="#a3545a" fill-opacity="0.75"/>
<circle cx="159.1" cy="423.4" r="1.3" fill="#a3545a" fill-opacity="0.75"/>
<circle cx="164.3" cy="423.0" r="1.3" fill="#a3545a" fill-opacity="0.75"/>
<circle cx="161.2" cy="394.1" r="1.3" fill="#a3545a" fill-opacity="0.75"/>
<circle cx="163.1" cy="398.5" r="1.3" fill="#a3545a" fill-opacity="0.75"/>
<circle cx="169.8" cy="412.4" r="1.3" fill="#a3545a" fill-opacity="0.75"/>
<circle cx="151.0" cy="345.0" r="1.3" fill="#a3545a" fill-opacity="0.75"/>
<circle cx="152.0" cy="352.0" r="1.3" fill="#a3545a" fill-opacity="0.75"/>
<circle cx="150.5" cy="360.0" r="1.3" fill="#a3545a" fill-opacity="0.75"/>
<circle cx="151.5" cy="375.0" r="1.3" fill="#a3545a" fill-opacity="0.75"/>
<circle cx="156.0" cy="365.0" r="1.3" fill="#a3545a" fill-opacity="0.75"/>
<circle cx="160.0" cy="352.0" r="1.3" fill="#a3545a" fill-opacity="0.75"/>
<circle cx="163.0" cy="346.0" r="1.3" fill="#a3545a" fill-opacity="0.75"/>
<circle cx="168.0" cy="356.0" r="1.3" fill="#a3545a" fill-opacity="0.75"/>
<circle cx="170.0" cy="366.0" r="1.3" fill="#a3545a" fill-opacity="0.75"/>
<polygon points="284,418.5 295,419 305,420 315,419 322,416 327,413 329.6,412 329.6,424 320,424.6 314,425 311,432 308,443.5 305,443.5 303,434 300.5,425 290,424.8 284,424.5" fill="#cdcdcd" fill-opacity="0.95"/>
<circle cx="304.1" cy="419.9" r="1.3" fill="#c8c8c8" fill-opacity="0.7"/>
<circle cx="290.3" cy="410.2" r="1.3" fill="#c8c8c8" fill-opacity="0.7"/>
<circle cx="304.5" cy="419.1" r="1.3" fill="#c8c8c8" fill-opacity="0.7"/>
<circle cx="288.7" cy="409.5" r="1.3" fill="#c8c8c8" fill-opacity="0.7"/>
<circle cx="291.4" cy="409.5" r="1.3" fill="#c8c8c8" fill-opacity="0.7"/>
<circle cx="292.1" cy="410.0" r="1.3" fill="#c8c8c8" fill-opacity="0.7"/>
<circle cx="287.5" cy="413.1" r="1.3" fill="#c8c8c8" fill-opacity="0.7"/>
<circle cx="301.3" cy="412.7" r="1.3" fill="#c8c8c8" fill-opacity="0.7"/>
<circle cx="302.2" cy="413.1" r="1.3" fill="#c8c8c8" fill-opacity="0.7"/>
<circle cx="287.1" cy="416.7" r="1.3" fill="#c8c8c8" fill-opacity="0.7"/>
<circle cx="283.5" cy="412.3" r="1.3" fill="#c8c8c8" fill-opacity="0.7"/>
<circle cx="295.5" cy="413.2" r="1.3" fill="#c8c8c8" fill-opacity="0.7"/>
<circle cx="295.6" cy="417.2" r="1.3" fill="#c8c8c8" fill-opacity="0.7"/>
<circle cx="284.9" cy="404.5" r="1.3" fill="#c8c8c8" fill-opacity="0.7"/>
<circle cx="300.0" cy="419.2" r="1.3" fill="#c8c8c8" fill-opacity="0.7"/>
<circle cx="284.9" cy="414.4" r="1.3" fill="#c8c8c8" fill-opacity="0.7"/>
<circle cx="286.3" cy="416.4" r="1.3" fill="#c8c8c8" fill-opacity="0.7"/>
<circle cx="288.1" cy="416.8" r="1.3" fill="#c8c8c8" fill-opacity="0.7"/>
<circle cx="295.0" cy="416.8" r="1.3" fill="#c8c8c8" fill-opacity="0.7"/>
<circle cx="292.1" cy="409.1" r="1.3" fill="#c8c8c8" fill-opacity="0.7"/>
<circle cx="294.4" cy="412.7" r="1.3" fill="#c8c8c8" fill-opacity="0.7"/>
<circle cx="299.6" cy="415.7" r="1.3" fill="#c8c8c8" fill-opacity="0.7"/>
<circle cx="302.0" cy="415.0" r="1.3" fill="#c8c8c8" fill-opacity="0.7"/>
<circle cx="302.6" cy="417.5" r="1.3" fill="#c8c8c8" fill-opacity="0.7"/>
<circle cx="302.2" cy="419.0" r="1.3" fill="#c8c8c8" fill-opacity="0.7"/>
<circle cx="295.0" cy="415.8" r="1.3" fill="#c8c8c8" fill-opacity="0.7"/>
<circle cx="292.7" cy="405.6" r="1.3" fill="#c8c8c8" fill-opacity="0.7"/>
<circle cx="300.0" cy="420.8" r="1.3" fill="#c8c8c8" fill-opacity="0.7"/>
<circle cx="291.6" cy="406.0" r="1.3" fill="#c8c8c8" fill-opacity="0.7"/>
<circle cx="287.7" cy="410.6" r="1.3" fill="#c8c8c8" fill-opacity="0.7"/>
<circle cx="289.7" cy="420.5" r="1.3" fill="#c8c8c8" fill-opacity="0.7"/>
<circle cx="284.4" cy="408.6" r="1.3" fill="#c8c8c8" fill-opacity="0.7"/>
<circle cx="285.6" cy="414.7" r="1.3" fill="#c8c8c8" fill-opacity="0.7"/>
<circle cx="284.4" cy="411.3" r="1.3" fill="#c8c8c8" fill-opacity="0.7"/>
<circle cx="296.4" cy="419.4" r="1.3" fill="#c8c8c8" fill-opacity="0.7"/>
<circle cx="283.8" cy="405.0" r="1.3" fill="#c8c8c8" fill-opacity="0.7"/>
<circle cx="287.2" cy="406.9" r="1.3" fill="#c8c8c8" fill-opacity="0.7"/>
<circle cx="288.4" cy="415.9" r="1.3" fill="#c8c8c8" fill-opacity="0.7"/>
<circle cx="287.3" cy="408.1" r="1.3" fill="#c8c8c8" fill-opacity="0.7"/>
<circle cx="287.0" cy="416.6" r="1.3" fill="#c8c8c8" fill-opacity="0.7"/>
<circle cx="290.2" cy="412.9" r="1.3" fill="#c8c8c8" fill-opacity="0.7"/>
<circle cx="289.0" cy="419.0" r="1.3" fill="#c8c8c8" fill-opacity="0.7"/>
<circle cx="295.6" cy="420.2" r="1.3" fill="#c8c8c8" fill-opacity="0.7"/>
<circle cx="294.1" cy="407.0" r="1.3" fill="#c8c8c8" fill-opacity="0.7"/>
<circle cx="284.1" cy="420.1" r="1.3" fill="#c8c8c8" fill-opacity="0.7"/>
<circle cx="326.5" cy="410.2" r="1.3" fill="#c8c8c8" fill-opacity="0.7"/>
<circle cx="322.2" cy="412.3" r="1.3" fill="#c8c8c8" fill-opacity="0.7"/>
<circle cx="318.3" cy="419.8" r="1.3" fill="#c8c8c8" fill-opacity="0.7"/>
<circle cx="324.3" cy="407.8" r="1.3" fill="#c8c8c8" fill-opacity="0.7"/>
<circle cx="319.8" cy="416.7" r="1.3" fill="#c8c8c8" fill-opacity="0.7"/>
<circle cx="325.1" cy="413.7" r="1.3" fill="#c8c8c8" fill-opacity="0.7"/>
<circle cx="327.6" cy="412.3" r="1.3" fill="#c8c8c8" fill-opacity="0.7"/>
<circle cx="323.9" cy="419.9" r="1.3" fill="#c8c8c8" fill-opacity="0.7"/>
<circle cx="318.2" cy="412.6" r="1.3" fill="#c8c8c8" fill-opacity="0.7"/>
<circle cx="316.4" cy="416.3" r="1.3" fill="#c8c8c8" fill-opacity="0.7"/>
<circle cx="314.0" cy="417.1" r="1.3" fill="#c8c8c8" fill-opacity="0.7"/>
<circle cx="327.2" cy="417.2" r="1.3" fill="#c8c8c8" fill-opacity="0.7"/>
<circle cx="321.5" cy="411.5" r="1.3" fill="#c8c8c8" fill-opacity="0.7"/>
<circle cx="328.9" cy="413.4" r="1.3" fill="#c8c8c8" fill-opacity="0.7"/>
<circle cx="327.4" cy="408.9" r="1.3" fill="#c8c8c8" fill-opacity="0.7"/>
<circle cx="326.3" cy="410.7" r="1.3" fill="#c8c8c8" fill-opacity="0.7"/>
<circle cx="285.0" cy="392.0" r="1.3" fill="#bdbdbd" fill-opacity="0.75"/>
<circle cx="339.3" cy="377.1" r="1.3" fill="#bdbdbd" fill-opacity="0.75"/>
<circle cx="287.0" cy="402.0" r="1.3" fill="#bdbdbd" fill-opacity="0.75"/>
<circle cx="291.0" cy="404.0" r="1.3" fill="#bdbdbd" fill-opacity="0.75"/>
<circle cx="295.0" cy="408.0" r="1.3" fill="#bdbdbd" fill-opacity="0.75"/>
<circle cx="297.0" cy="405.0" r="1.3" fill="#bdbdbd" fill-opacity="0.75"/>
<circle cx="300.0" cy="410.0" r="1.3" fill="#bdbdbd" fill-opacity="0.75"/>
<circle cx="303.0" cy="413.0" r="1.3" fill="#bdbdbd" fill-opacity="0.75"/>
<circle cx="326.0" cy="398.0" r="1.3" fill="#bdbdbd" fill-opacity="0.75"/>
<circle cx="322.0" cy="404.0" r="1.3" fill="#bdbdbd" fill-opacity="0.75"/>
<circle cx="318.0" cy="407.0" r="1.3" fill="#bdbdbd" fill-opacity="0.75"/>
<circle cx="299.0" cy="428.0" r="1.3" fill="#bdbdbd" fill-opacity="0.75"/>
<circle cx="312.0" cy="428.0" r="1.3" fill="#bdbdbd" fill-opacity="0.75"/>
<circle cx="296.0" cy="426.0" r="1.3" fill="#bdbdbd" fill-opacity="0.75"/>
<circle cx="316.0" cy="426.0" r="1.3" fill="#bdbdbd" fill-opacity="0.75"/>
<circle cx="251.2" cy="363.6" r="1.3" fill="#2a3068" fill-opacity="0.9"/>
<circle cx="275.8" cy="377.9" r="1.3" fill="#2a3068" fill-opacity="0.9"/>
<circle cx="277.2" cy="389.3" r="1.3" fill="#2a3068" fill-opacity="0.9"/>
<circle cx="282.2" cy="386.5" r="1.3" fill="#2a3068" fill-opacity="0.9"/>
<circle cx="279.5" cy="403.8" r="1.3" fill="#2a3068" fill-opacity="0.9"/>
<circle cx="277.5" cy="407.5" r="1.3" fill="#2a3068" fill-opacity="0.9"/>
<circle cx="280.5" cy="408.5" r="1.3" fill="#2a3068" fill-opacity="0.9"/>
<circle cx="282.0" cy="410.5" r="1.3" fill="#2a3068" fill-opacity="0.9"/>
<circle cx="278.5" cy="411.0" r="1.3" fill="#2a3068" fill-opacity="0.9"/>
<circle cx="276.8" cy="413.5" r="1.3" fill="#2a3068" fill-opacity="0.9"/>
<circle cx="280.0" cy="413.5" r="1.3" fill="#2a3068" fill-opacity="0.9"/>
<circle cx="282.0" cy="415.0" r="1.3" fill="#2a3068" fill-opacity="0.9"/>
<circle cx="279.0" cy="416.5" r="1.3" fill="#2a3068" fill-opacity="0.9"/>
<circle cx="281.0" cy="418.5" r="1.3" fill="#2a3068" fill-opacity="0.9"/>
<circle cx="277.8" cy="419.0" r="1.3" fill="#2a3068" fill-opacity="0.9"/>
<circle cx="283.0" cy="406.0" r="1.3" fill="#2a3068" fill-opacity="0.9"/>
<circle cx="276.0" cy="410.0" r="1.3" fill="#2a3068" fill-opacity="0.9"/>
<polygon points="329.6,403 332,403 333.5,412 332.5,425 329.6,425" fill="#c77a7d" fill-opacity="0.45"/>
<circle cx="358.0" cy="365.2" r="1.3" fill="#a8383d" fill-opacity="0.8"/>
<circle cx="360.2" cy="365.2" r="1.3" fill="#a8383d" fill-opacity="0.8"/>
<circle cx="379.3" cy="362.0" r="1.3" fill="#a8383d" fill-opacity="0.8"/>
<circle cx="357.3" cy="370.3" r="1.3" fill="#a8383d" fill-opacity="0.8"/>
<circle cx="336.6" cy="392.4" r="1.3" fill="#a8383d" fill-opacity="0.8"/>
<circle cx="340.4" cy="395.0" r="1.3" fill="#a8383d" fill-opacity="0.8"/>
<circle cx="331.5" cy="402.9" r="1.3" fill="#a8383d" fill-opacity="0.8"/>
<circle cx="331.5" cy="407.4" r="1.3" fill="#a8383d" fill-opacity="0.8"/>
<circle cx="335.5" cy="415.3" r="1.3" fill="#a8383d" fill-opacity="0.8"/>
<circle cx="342.7" cy="414.2" r="1.3" fill="#a8383d" fill-opacity="0.8"/>
<circle cx="345.4" cy="415.3" r="1.3" fill="#a8383d" fill-opacity="0.8"/>
<circle cx="331.0" cy="419.8" r="1.3" fill="#a8383d" fill-opacity="0.8"/>
<circle cx="331.5" cy="425.0" r="1.3" fill="#a8383d" fill-opacity="0.8"/>
<circle cx="333.0" cy="411.0" r="1.3" fill="#a8383d" fill-opacity="0.8"/>
<circle cx="334.0" cy="420.0" r="1.3" fill="#a8383d" fill-opacity="0.8"/>
<circle cx="330.5" cy="413.0" r="1.3" fill="#a8383d" fill-opacity="0.8"/>
<circle cx="332.0" cy="416.5" r="1.3" fill="#a8383d" fill-opacity="0.8"/>
<circle cx="330.8" cy="422.5" r="1.3" fill="#a8383d" fill-opacity="0.8"/>
<line x1="102.6" y1="274.4" x2="102.6" y2="449.6" stroke="#d4d4d4" stroke-width="0.6"/>
<line x1="102.6" y1="274.4" x2="102.6" y2="449.6" stroke="#555" stroke-width="1.0" stroke-dasharray="1.7,2.8" stroke-dashoffset="-1.5"/>
<line x1="149.7" y1="274.4" x2="149.7" y2="449.6" stroke="#d4d4d4" stroke-width="0.6"/>
<line x1="149.7" y1="274.4" x2="149.7" y2="449.6" stroke="#555" stroke-width="1.0" stroke-dasharray="1.7,2.8" stroke-dashoffset="-1.5"/>
<line x1="282.6" y1="274.4" x2="282.6" y2="449.6" stroke="#d4d4d4" stroke-width="0.6"/>
<line x1="282.6" y1="274.4" x2="282.6" y2="449.6" stroke="#555" stroke-width="1.0" stroke-dasharray="1.7,2.8" stroke-dashoffset="-1.5"/>
<line x1="329.7" y1="274.4" x2="329.7" y2="449.6" stroke="#d4d4d4" stroke-width="0.6"/>
<line x1="329.7" y1="274.4" x2="329.7" y2="449.6" stroke="#555" stroke-width="1.0" stroke-dasharray="1.7,2.8" stroke-dashoffset="-1.5"/>
<line x1="39.6" y1="422.6" x2="212.3" y2="422.6" stroke="#d4d4d4" stroke-width="0.6"/>
<line x1="39.6" y1="422.6" x2="212.3" y2="422.6" stroke="#555" stroke-width="1.0" stroke-dasharray="1.7,2.8" stroke-dashoffset="-1.5"/>
<line x1="220.2" y1="422.0" x2="392.2" y2="422.0" stroke="#d4d4d4" stroke-width="0.6"/>
<line x1="220.2" y1="422.0" x2="392.2" y2="422.0" stroke="#555" stroke-width="1.0" stroke-dasharray="1.7,2.8" stroke-dashoffset="-1.5"/>
<text x="55" y="284.8" font-size="8.2" fill="#4f5a8a" textLength="25.8" lengthAdjust="spacingAndGlyphs">n = 219</text>
<text x="173.1" y="285.0" font-size="8.2" fill="#a85a60" textLength="25.8" lengthAdjust="spacingAndGlyphs">n = 111</text>
<text x="236.9" y="284.4" font-size="8.2" fill="#4f5a8a" textLength="25.5" lengthAdjust="spacingAndGlyphs">n = 17</text>
<text x="353.0" y="284.5" font-size="8.2" fill="#a85a60" textLength="25.8" lengthAdjust="spacingAndGlyphs">n = 19</text>
<text x="85.5" y="302.7" font-size="8.2" fill="#2e2e2e" stroke="#2e2e2e" stroke-width="0.12" textLength="16.8" lengthAdjust="spacingAndGlyphs">Palm</text>
<text x="158.0" y="294.8" font-size="8.2" fill="#2e2e2e" stroke="#2e2e2e" stroke-width="0.12" textLength="19.1" lengthAdjust="spacingAndGlyphs">Myo6</text>
<text x="174.2" y="305.6" font-size="8.2" fill="#2e2e2e" stroke="#2e2e2e" stroke-width="0.12" textLength="25.4" lengthAdjust="spacingAndGlyphs">Hspa1a</text>
<text x="243.6" y="359.7" font-size="8.2" fill="#2e2e2e" stroke="#2e2e2e" stroke-width="0.12" textLength="25.7" lengthAdjust="spacingAndGlyphs">Cox6a2</text>
<text x="263.6" y="386.1" font-size="8.2" fill="#2e2e2e" stroke="#2e2e2e" stroke-width="0.12" textLength="12.9" lengthAdjust="spacingAndGlyphs">Pls1</text>
<text x="361.8" y="357.8" font-size="8.2" fill="#2e2e2e" stroke="#2e2e2e" stroke-width="0.12" textLength="27.0" lengthAdjust="spacingAndGlyphs">Sostdc1</text>
<text x="334.8" y="364.3" font-size="8.2" fill="#2e2e2e" stroke="#2e2e2e" stroke-width="0.12" textLength="25.4" lengthAdjust="spacingAndGlyphs">Hspa1a</text>
<text x="365.6" y="367.7" font-size="8.2" fill="#2e2e2e" stroke="#2e2e2e" stroke-width="0.12" textLength="15.3" lengthAdjust="spacingAndGlyphs">Ncr1</text>
<text x="337.1" y="389.7" font-size="8.2" fill="#2e2e2e" stroke="#2e2e2e" stroke-width="0.12" textLength="13.5" lengthAdjust="spacingAndGlyphs">Xcl1</text>
<text x="350.6" y="415.5" font-size="8.2" fill="#2e2e2e" stroke="#2e2e2e" stroke-width="0.12" textLength="16.8" lengthAdjust="spacingAndGlyphs">Klra1</text>
<text x="86.2" y="333.0" font-size="8.0" font-weight="bold" fill="#1a1a1a" stroke="#1a1a1a" stroke-width="0.25" textLength="15.3" lengthAdjust="spacingAndGlyphs">Tgs2</text>
<text x="75.8" y="345.5" font-size="8.0" font-weight="bold" fill="#1a1a1a" stroke="#1a1a1a" stroke-width="0.25" textLength="22.1" lengthAdjust="spacingAndGlyphs">Tnfaip3</text>
<text x="102.9" y="363.1" font-size="8.0" font-weight="bold" fill="#1a1a1a" stroke="#1a1a1a" stroke-width="0.25" textLength="17.2" lengthAdjust="spacingAndGlyphs">S1pr1</text>
<text x="80.0" y="392.4" font-size="8.0" font-weight="bold" fill="#1a1a1a" stroke="#1a1a1a" stroke-width="0.25" textLength="14.3" lengthAdjust="spacingAndGlyphs">Nqo1</text>
<text x="83.0" y="416.4" font-size="8.0" font-weight="bold" fill="#1a1a1a" stroke="#1a1a1a" stroke-width="0.25" textLength="20.0" lengthAdjust="spacingAndGlyphs">Il18rap</text>
<text x="90.0" y="425.4" font-size="8.0" font-weight="bold" fill="#1a1a1a" stroke="#1a1a1a" stroke-width="0.25" textLength="19.4" lengthAdjust="spacingAndGlyphs">Il12rb1</text>
<text x="105.8" y="411.9" font-size="8.0" font-weight="bold" fill="#1a1a1a" stroke="#1a1a1a" stroke-width="0.25" textLength="18.5" lengthAdjust="spacingAndGlyphs">Foxo1</text>
<text x="128.8" y="412.0" font-size="8.0" font-weight="bold" fill="#1a1a1a" stroke="#1a1a1a" stroke-width="0.25" textLength="11.1" lengthAdjust="spacingAndGlyphs">Sell</text>
<text x="118.5" y="420.4" font-size="8.0" font-weight="bold" fill="#1a1a1a" stroke="#1a1a1a" stroke-width="0.25" textLength="17.5" lengthAdjust="spacingAndGlyphs">Tbx21</text>
<text x="108.8" y="433.9" font-size="8.0" font-weight="bold" fill="#1a1a1a" stroke="#1a1a1a" stroke-width="0.25" textLength="12.6" lengthAdjust="spacingAndGlyphs">Il6st</text>
<text x="128.8" y="435.9" font-size="8.0" font-weight="bold" fill="#1a1a1a" stroke="#1a1a1a" stroke-width="0.25" textLength="12.4" lengthAdjust="spacingAndGlyphs">Il6ra</text>
<text x="119.8" y="446.1" font-size="8.0" font-weight="bold" fill="#1a1a1a" stroke="#1a1a1a" stroke-width="0.25" textLength="16.2" lengthAdjust="spacingAndGlyphs">Stat4</text>
<text x="139.9" y="426.6" font-size="8.0" font-weight="bold" fill="#1a1a1a" stroke="#1a1a1a" stroke-width="0.25" textLength="13.6" lengthAdjust="spacingAndGlyphs">Ccr7</text>
<text x="139.6" y="394.4" font-size="8.0" font-weight="bold" fill="#1a1a1a" stroke="#1a1a1a" stroke-width="0.25" textLength="13.9" lengthAdjust="spacingAndGlyphs">Ccr4</text>
<text x="141.1" y="381.4" font-size="8.0" font-weight="bold" fill="#1a1a1a" stroke="#1a1a1a" stroke-width="0.25" textLength="13.1" lengthAdjust="spacingAndGlyphs">Ccl4</text>
<text x="164.1" y="394.2" font-size="8.0" font-weight="bold" fill="#1a1a1a" stroke="#1a1a1a" stroke-width="0.25" textLength="6.9" lengthAdjust="spacingAndGlyphs">Il2</text>
<text x="158.0" y="383.4" font-size="8.0" font-weight="bold" fill="#1a1a1a" stroke="#1a1a1a" stroke-width="0.25" textLength="13.0" lengthAdjust="spacingAndGlyphs">Ccl1</text>
<text x="149.6" y="371.8" font-size="8.0" font-weight="bold" fill="#1a1a1a" stroke="#1a1a1a" stroke-width="0.25" textLength="16.8" lengthAdjust="spacingAndGlyphs">Ifngr2</text>
<text x="170.6" y="375.3" font-size="8.0" font-weight="bold" fill="#1a1a1a" stroke="#1a1a1a" stroke-width="0.25" textLength="12.3" lengthAdjust="spacingAndGlyphs">Xcl1</text>
<text x="161.1" y="362.6" font-size="8.0" font-weight="bold" fill="#1a1a1a" stroke="#1a1a1a" stroke-width="0.25" textLength="14.1" lengthAdjust="spacingAndGlyphs">Ccl3</text>
<text x="138.4" y="353.1" font-size="8.0" font-weight="bold" fill="#1a1a1a" stroke="#1a1a1a" stroke-width="0.25" textLength="18.1" lengthAdjust="spacingAndGlyphs">Il18bp</text>
<text x="155.7" y="342.0" font-size="8.0" font-weight="bold" fill="#1a1a1a" stroke="#1a1a1a" stroke-width="0.25" textLength="6.9" lengthAdjust="spacingAndGlyphs">Il4</text>
<text x="166.4" y="340.8" font-size="8.0" font-weight="bold" fill="#1a1a1a" stroke="#1a1a1a" stroke-width="0.25" textLength="23.5" lengthAdjust="spacingAndGlyphs">Hspa1b</text>
<text x="148.8" y="327.3" font-size="8.0" font-weight="bold" fill="#1a1a1a" stroke="#1a1a1a" stroke-width="0.25" textLength="6.1" lengthAdjust="spacingAndGlyphs">Il6</text>
<text x="161.8" y="325.9" font-size="8.0" font-weight="bold" fill="#1a1a1a" stroke="#1a1a1a" stroke-width="0.25" textLength="18.0" lengthAdjust="spacingAndGlyphs">Gzmc</text>
<text x="341.6" y="378.4" font-size="8.0" font-weight="bold" fill="#1a1a1a" stroke="#1a1a1a" stroke-width="0.25" textLength="23.6" lengthAdjust="spacingAndGlyphs">Hspa1b</text>
<text x="327.0" y="381.3" font-size="8.0" font-weight="bold" fill="#1a1a1a" stroke="#1a1a1a" stroke-width="0.25" textLength="9.0" lengthAdjust="spacingAndGlyphs">Id3</text>
<text x="318.4" y="399.0" font-size="8.0" font-weight="bold" fill="#1a1a1a" stroke="#1a1a1a" stroke-width="0.25" textLength="16.4" lengthAdjust="spacingAndGlyphs">Dapl1</text>
<text x="340.9" y="399.7" font-size="8.0" font-weight="bold" fill="#1a1a1a" stroke="#1a1a1a" stroke-width="0.25" textLength="15.7" lengthAdjust="spacingAndGlyphs">Cd83</text>
<text x="304.5" y="408.0" font-size="8.0" font-weight="bold" fill="#1a1a1a" stroke="#1a1a1a" stroke-width="0.25" textLength="18.0" lengthAdjust="spacingAndGlyphs">Gzmc</text>
<text x="333.7" y="408.0" font-size="8.0" font-weight="bold" fill="#1a1a1a" stroke="#1a1a1a" stroke-width="0.25" textLength="13.5" lengthAdjust="spacingAndGlyphs">Ccl1</text>
<text x="319.1" y="416.1" font-size="8.0" font-weight="bold" fill="#1a1a1a" stroke="#1a1a1a" stroke-width="0.25" textLength="6.7" lengthAdjust="spacingAndGlyphs">Il4</text>
<text x="334.2" y="423.7" font-size="8.0" font-weight="bold" fill="#1a1a1a" stroke="#1a1a1a" stroke-width="0.25" textLength="14.8" lengthAdjust="spacingAndGlyphs">Klrh1</text>
<text x="315.3" y="427.8" font-size="8.0" font-weight="bold" fill="#1a1a1a" stroke="#1a1a1a" stroke-width="0.25" textLength="7.2" lengthAdjust="spacingAndGlyphs">Il6</text>
<text x="326.5" y="433.4" font-size="8.0" font-weight="bold" fill="#1a1a1a" stroke="#1a1a1a" stroke-width="0.25" textLength="13.9" lengthAdjust="spacingAndGlyphs">Areg</text>
<text x="310.8" y="440.6" font-size="8.0" font-weight="bold" fill="#1a1a1a" stroke="#1a1a1a" stroke-width="0.25" textLength="14.4" lengthAdjust="spacingAndGlyphs">Ccl3</text>
<text x="288.3" y="431.4" font-size="8.0" font-weight="bold" fill="#1a1a1a" stroke="#1a1a1a" stroke-width="0.25" textLength="14.5" lengthAdjust="spacingAndGlyphs">Tns2</text>
<text x="269.2" y="416.0" font-size="8.0" font-weight="bold" fill="#1a1a1a" stroke="#1a1a1a" stroke-width="0.25" textLength="13.0" lengthAdjust="spacingAndGlyphs">Itga4</text>
<rect x="39.6" y="274.4" width="172.70000000000002" height="175.2" fill="none" stroke="#333" stroke-width="1.3"/>
<line x1="36.1" y1="441.6" x2="39.6" y2="441.6" stroke="#333" stroke-width="1.1"/>
<line x1="36.1" y1="408.1" x2="39.6" y2="408.1" stroke="#333" stroke-width="1.1"/>
<line x1="36.1" y1="374.6" x2="39.6" y2="374.6" stroke="#333" stroke-width="1.1"/>
<line x1="36.1" y1="341.1" x2="39.6" y2="341.1" stroke="#333" stroke-width="1.1"/>
<line x1="36.1" y1="307.6" x2="39.6" y2="307.6" stroke="#333" stroke-width="1.1"/>
<line x1="36.1" y1="274.1" x2="39.6" y2="274.1" stroke="#333" stroke-width="1.1"/>
<line x1="47.900000000000006" y1="449.6" x2="47.900000000000006" y2="453.2" stroke="#333" stroke-width="1.1"/>
<text x="47.900000000000006" y="465.5" font-size="10.7" fill="#333" text-anchor="middle" font-weight="normal" font-style="normal" textLength="17.5" lengthAdjust="spacingAndGlyphs" class="ax">−5.0</text>
<line x1="87.05000000000001" y1="449.6" x2="87.05000000000001" y2="453.2" stroke="#333" stroke-width="1.1"/>
<text x="87.05000000000001" y="465.5" font-size="10.7" fill="#333" text-anchor="middle" font-weight="normal" font-style="normal" textLength="17.5" lengthAdjust="spacingAndGlyphs" class="ax">−2.5</text>
<line x1="126.2" y1="449.6" x2="126.2" y2="453.2" stroke="#333" stroke-width="1.1"/>
<text x="126.2" y="465.5" font-size="10.7" fill="#333" text-anchor="middle" font-weight="normal" font-style="normal" textLength="13" lengthAdjust="spacingAndGlyphs" class="ax">0.0</text>
<line x1="165.35" y1="449.6" x2="165.35" y2="453.2" stroke="#333" stroke-width="1.1"/>
<text x="165.35" y="465.5" font-size="10.7" fill="#333" text-anchor="middle" font-weight="normal" font-style="normal" textLength="13" lengthAdjust="spacingAndGlyphs" class="ax">2.5</text>
<line x1="204.5" y1="449.6" x2="204.5" y2="453.2" stroke="#333" stroke-width="1.1"/>
<text x="204.5" y="465.5" font-size="10.7" fill="#333" text-anchor="middle" font-weight="normal" font-style="normal" textLength="13" lengthAdjust="spacingAndGlyphs" class="ax">5.0</text>
<text class="ax" x="92.35" y="481.2" font-size="10.8" fill="#333" textLength="67.2" lengthAdjust="spacingAndGlyphs">Log<tspan font-size="7.2" dy="5.3">2</tspan><tspan dy="-5.3"> fold change</tspan></text>
<rect x="220.2" y="274.4" width="172.0" height="175.2" fill="none" stroke="#333" stroke-width="1.3"/>
<line x1="216.7" y1="441.6" x2="220.2" y2="441.6" stroke="#333" stroke-width="1.1"/>
<line x1="216.7" y1="408.1" x2="220.2" y2="408.1" stroke="#333" stroke-width="1.1"/>
<line x1="216.7" y1="374.6" x2="220.2" y2="374.6" stroke="#333" stroke-width="1.1"/>
<line x1="216.7" y1="341.1" x2="220.2" y2="341.1" stroke="#333" stroke-width="1.1"/>
<line x1="216.7" y1="307.6" x2="220.2" y2="307.6" stroke="#333" stroke-width="1.1"/>
<line x1="216.7" y1="274.1" x2="220.2" y2="274.1" stroke="#333" stroke-width="1.1"/>
<line x1="227.75000000000003" y1="449.6" x2="227.75000000000003" y2="453.2" stroke="#333" stroke-width="1.1"/>
<text x="227.75000000000003" y="465.5" font-size="10.7" fill="#333" text-anchor="middle" font-weight="normal" font-style="normal" textLength="17.5" lengthAdjust="spacingAndGlyphs" class="ax">−5.0</text>
<line x1="266.675" y1="449.6" x2="266.675" y2="453.2" stroke="#333" stroke-width="1.1"/>
<text x="266.675" y="465.5" font-size="10.7" fill="#333" text-anchor="middle" font-weight="normal" font-style="normal" textLength="17.5" lengthAdjust="spacingAndGlyphs" class="ax">−2.5</text>
<line x1="305.6" y1="449.6" x2="305.6" y2="453.2" stroke="#333" stroke-width="1.1"/>
<text x="305.6" y="465.5" font-size="10.7" fill="#333" text-anchor="middle" font-weight="normal" font-style="normal" textLength="13" lengthAdjust="spacingAndGlyphs" class="ax">0.0</text>
<line x1="344.52500000000003" y1="449.6" x2="344.52500000000003" y2="453.2" stroke="#333" stroke-width="1.1"/>
<text x="344.52500000000003" y="465.5" font-size="10.7" fill="#333" text-anchor="middle" font-weight="normal" font-style="normal" textLength="13" lengthAdjust="spacingAndGlyphs" class="ax">2.5</text>
<line x1="383.45000000000005" y1="449.6" x2="383.45000000000005" y2="453.2" stroke="#333" stroke-width="1.1"/>
<text x="383.45000000000005" y="465.5" font-size="10.7" fill="#333" text-anchor="middle" font-weight="normal" font-style="normal" textLength="13" lengthAdjust="spacingAndGlyphs" class="ax">5.0</text>
<text class="ax" x="272.59999999999997" y="481.2" font-size="10.8" fill="#333" textLength="67.2" lengthAdjust="spacingAndGlyphs">Log<tspan font-size="7.2" dy="5.3">2</tspan><tspan dy="-5.3"> fold change</tspan></text>
<text x="32.2" y="445.5" font-size="10.7" fill="#333" text-anchor="end" font-weight="normal" font-style="normal" textLength="4.8" lengthAdjust="spacingAndGlyphs" class="ax">0</text>
<text x="32.2" y="412.0" font-size="10.7" fill="#333" text-anchor="end" font-weight="normal" font-style="normal" textLength="4.8" lengthAdjust="spacingAndGlyphs" class="ax">5</text>
<text x="32.2" y="378.5" font-size="10.7" fill="#333" text-anchor="end" font-weight="normal" font-style="normal" textLength="10.2" lengthAdjust="spacingAndGlyphs" class="ax">10</text>
<text x="32.2" y="345.0" font-size="10.7" fill="#333" text-anchor="end" font-weight="normal" font-style="normal" textLength="10.2" lengthAdjust="spacingAndGlyphs" class="ax">15</text>
<text x="32.2" y="311.5" font-size="10.7" fill="#333" text-anchor="end" font-weight="normal" font-style="normal" textLength="10.2" lengthAdjust="spacingAndGlyphs" class="ax">20</text>
<text x="32.2" y="278.0" font-size="10.7" fill="#333" text-anchor="end" font-weight="normal" font-style="normal" textLength="10.2" lengthAdjust="spacingAndGlyphs" class="ax">25</text>
<g transform="rotate(-90)" class="ax"><text x="-379.6" y="9.4" font-size="9.8" textLength="4.3" lengthAdjust="spacingAndGlyphs">-</text><text x="-374.4" y="9.4" font-size="9.8" textLength="12.8" lengthAdjust="spacingAndGlyphs">Log</text><text x="-359.4" y="13.6" font-size="7.0" textLength="6.0" lengthAdjust="spacingAndGlyphs">10</text><text x="-350.4" y="9.6" font-size="10.4" font-style="italic" textLength="6.6" lengthAdjust="spacingAndGlyphs">P</text></g>
<text x="404.1" y="296.8" font-size="11" fill="#1a1a1a" text-anchor="start" font-weight="normal" font-style="normal" textLength="57" lengthAdjust="spacingAndGlyphs" >Enrichment</text>
<circle cx="410.90" cy="308.40" r="3.3" fill="#d6d6d6" stroke="#c2c2c2" stroke-width="1.0" fill-opacity="1"/>
<text x="417.3" y="311.4" font-size="8.6" fill="#cfcfcf" text-anchor="start" font-weight="normal" font-style="normal" textLength="21.7" lengthAdjust="spacingAndGlyphs" >None</text>
<circle cx="410.90" cy="320.25" r="3.3" fill="#5a72b0" stroke="#2a3d78" stroke-width="1.0" fill-opacity="1"/>
<text x="417.3" y="323.25" font-size="8.6" fill="#55639a" text-anchor="start" font-weight="normal" font-style="normal" textLength="73.9" lengthAdjust="spacingAndGlyphs" >Day 8 - Allogeneic</text>
<circle cx="410.90" cy="332.10" r="3.3" fill="#e65a58" stroke="#a83030" stroke-width="1.0" fill-opacity="1"/>
<text x="417.3" y="335.09999999999997" font-size="8.6" fill="#c85a5a" text-anchor="start" font-weight="normal" font-style="normal" textLength="101.4" lengthAdjust="spacingAndGlyphs" >Day 8 - Allogeneic + Treg</text>
</svg>
</body></html>
